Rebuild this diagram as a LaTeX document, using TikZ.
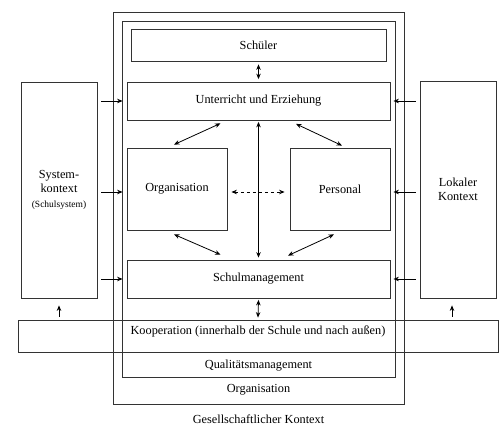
\documentclass[tikz,border=0pt]{standalone}
\usepackage{fontspec}
\setmainfont{Liberation Serif}
\usetikzlibrary{calc,arrows.meta}
\begin{document}
\begin{tikzpicture}[x=1pt,y=-1pt,
  box/.style={draw=black!80,line width=0.8pt,rectangle,inner sep=0pt,fill=none},
  lbl/.style={font=\fontsize{12.3}{14}\selectfont,inner sep=0pt},
  arr/.style={-{Stealth[length=5.5pt,width=4.5pt]},line width=0.8pt},
  darr/.style={{Stealth[length=5.5pt,width=4.5pt]}-{Stealth[length=5.5pt,width=4.5pt]},line width=0.8pt}]
\useasboundingbox (0,0) rectangle (500,435);
\fill[white] (0,0) rectangle (500,435);
% outer boxes
\node[box,minimum width=291,minimum height=392] (org) at (258.5,208) {};
\node[box,minimum width=273,minimum height=356] (qm) at (258.5,199) {};
\node[box,minimum width=480,minimum height=32] (koop) at (258,336) {};
\node[lbl] (koopt) at (258,331) {Kooperation (innerhalb der Schule und nach außen)};
\node[lbl] (qmt) at (258.5,366) {Qualitätsmanagement};
\node[lbl] (orgt) at (258.5,390) {Organisation};
\node[lbl] (gk) at (258.5,419) {Gesellschaftlicher Kontext};
% inner boxes
\node[box,minimum width=255,minimum height=32] (sch) at (258.5,45) {};
\node[lbl] at (sch) {Schüler};
\node[box,minimum width=263,minimum height=38] (unt) at (258.5,101) {};
\node[lbl] at (unt) {Unterricht und Erziehung};
\node[box,minimum width=100,minimum height=82] (orgi) at (177,189) {};
\node[lbl] at (orgi) {Organisation};
\node[box,minimum width=100,minimum height=82] (pers) at (340,189) {};
\node[lbl] at (pers) {Personal};
\node[box,minimum width=263,minimum height=38] (sm) at (258.5,279) {};
\node[lbl] at (sm) {Schulmanagement};
% context boxes
\node[box,minimum width=76,minimum height=216] (sys) at (59,190) {};
\node[lbl,align=center] at (sys) {System-\\kontext\\[1pt]{\fontsize{9.5}{11}\selectfont(Schulsystem)}};
\node[box,minimum width=76,minimum height=217] (lok) at (458,189.5) {};
\node[lbl,align=center] at (lok) {Lokaler\\Kontext};
% left arrows
\draw[arr] ([xshift=4]sys.east |- unt.west) -- ([xshift=-4]unt.west);
\draw[arr] ([xshift=4]sys.east |- 0,192) -- ([xshift=-4]orgi.west |- 0,192);
\draw[arr] ([xshift=4]sys.east |- sm.west) -- ([xshift=-4]sm.west);
% right arrows
\draw[arr] ([xshift=-4]lok.west |- unt.east) -- ([xshift=3]unt.east);
\draw[arr] ([xshift=-4]lok.west |- 0,192) -- ([xshift=3]pers.east |- 0,192);
\draw[arr] ([xshift=-4]lok.west |- sm.east) -- ([xshift=3]sm.east);
% up arrows
\draw[arr] ([yshift=3]sys.south |- koop.north) -- ([yshift=-7]sys.south);
\draw[arr] ([xshift=-6,yshift=3]lok.south |- koop.north) -- ([xshift=-6,yshift=-7]lok.south);
% vertical
\draw[darr] ([yshift=-3]sch.south) -- ([yshift=2.5]unt.north);
\draw[darr] ([yshift=-1.5]unt.south) -- ([yshift=2]sm.north);
\draw[darr] ([yshift=-1.5]sm.south) -- ([yshift=2]koop.north);
% diagonals
\draw[darr] ($(unt.south)+(-38,3)$) -- ($(orgi.north)+(-3,-3)$);
\draw[darr] ($(unt.south)+(37.5,3.5)$) -- ($(pers.north)+(2,-2)$);
\draw[darr] ($(orgi.south)+(-3,4)$) -- ($(sm.north)+(-38,-5)$);
\draw[darr] ($(pers.south)+(-6,4)$) -- ($(sm.north)+(29.5,-4)$);
% dashed
\draw[darr,dashed] ([xshift=4]orgi.east |- 0,192) -- ([xshift=-5]pers.west |- 0,192);
\end{tikzpicture}
\end{document}
